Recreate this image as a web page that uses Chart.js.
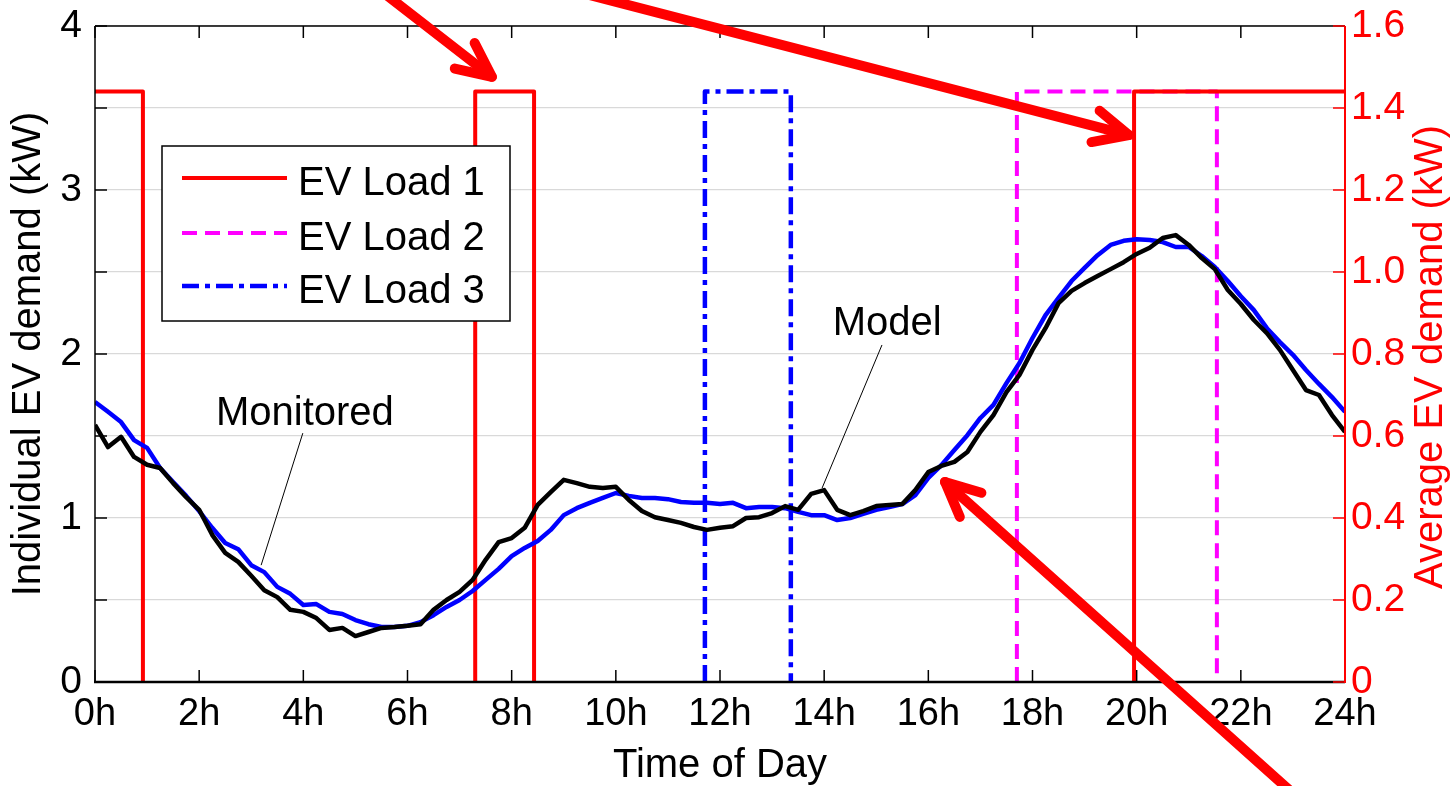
<!DOCTYPE html>
<html>
<head>
<meta charset="utf-8">
<title>EV demand over the day</title>
<script src="https://cdn.jsdelivr.net/npm/chart.js@4.4.1/dist/chart.umd.min.js"></script>
<style>
  html, body { margin: 0; padding: 0; background: #fff; }
  #wrap { width: 1455px; height: 786px; position: relative; }
</style>
</head>
<body>
<div id="wrap"><canvas id="demandChart"></canvas></div>
<script>
"use strict";

// time of day, hours (15 min steps)
const hours = [
  0, 0.25, 0.5, 0.75, 1, 1.25, 1.5, 1.75, 2, 2.25, 2.5, 2.75,
  3, 3.25, 3.5, 3.75, 4, 4.25, 4.5, 4.75, 5, 5.25, 5.5, 5.75,
  6, 6.25, 6.5, 6.75, 7, 7.25, 7.5, 7.75, 8, 8.25, 8.5, 8.75,
  9, 9.25, 9.5, 9.75, 10, 10.25, 10.5, 10.75, 11, 11.25, 11.5, 11.75,
  12, 12.25, 12.5, 12.75, 13, 13.25, 13.5, 13.75, 14, 14.25, 14.5, 14.75,
  15, 15.25, 15.5, 15.75, 16, 16.25, 16.5, 16.75, 17, 17.25, 17.5, 17.75,
  18, 18.25, 18.5, 18.75, 19, 19.25, 19.5, 19.75, 20, 20.25, 20.5, 20.75,
  21, 21.25, 21.5, 21.75, 22, 22.25, 22.5, 22.75, 23, 23.25, 23.5, 23.75, 24
];

// average demand per EV, kW (right axis)
const model = [
  0.627, 0.573, 0.598, 0.549, 0.530, 0.522, 0.485, 0.451, 0.420, 0.359, 0.315, 0.293,
  0.259, 0.224, 0.207, 0.176, 0.171, 0.156, 0.127, 0.132, 0.112, 0.122, 0.132, 0.134,
  0.137, 0.141, 0.176, 0.200, 0.220, 0.249, 0.298, 0.341, 0.351, 0.376, 0.432, 0.463,
  0.493, 0.485, 0.476, 0.473, 0.476, 0.444, 0.417, 0.402, 0.395, 0.388, 0.378, 0.371,
  0.376, 0.380, 0.400, 0.402, 0.412, 0.429, 0.420, 0.459, 0.468, 0.420, 0.407, 0.417,
  0.429, 0.432, 0.434, 0.468, 0.512, 0.527, 0.537, 0.561, 0.610, 0.651, 0.707, 0.749,
  0.810, 0.863, 0.924, 0.954, 0.973, 0.990, 1.007, 1.024, 1.044, 1.059, 1.083, 1.090,
  1.066, 1.034, 1.007, 0.956, 0.922, 0.883, 0.851, 0.810, 0.761, 0.712, 0.700, 0.651, 0.610
];
const monitored = [
  0.683, 0.659, 0.634, 0.590, 0.571, 0.522, 0.488, 0.454, 0.417, 0.376, 0.339, 0.324,
  0.285, 0.268, 0.232, 0.215, 0.188, 0.190, 0.171, 0.166, 0.151, 0.141, 0.134, 0.134,
  0.137, 0.146, 0.163, 0.183, 0.200, 0.222, 0.249, 0.276, 0.307, 0.327, 0.344, 0.371,
  0.407, 0.424, 0.437, 0.449, 0.461, 0.454, 0.449, 0.449, 0.446, 0.439, 0.437, 0.437,
  0.434, 0.437, 0.424, 0.427, 0.427, 0.424, 0.415, 0.407, 0.407, 0.395, 0.400, 0.410,
  0.420, 0.427, 0.434, 0.456, 0.498, 0.529, 0.566, 0.602, 0.644, 0.676, 0.729, 0.778,
  0.839, 0.895, 0.937, 0.978, 1.010, 1.041, 1.066, 1.076, 1.080, 1.078, 1.073, 1.061,
  1.061, 1.039, 1.012, 0.978, 0.941, 0.907, 0.863, 0.829, 0.798, 0.761, 0.727, 0.695, 0.659
];

// individual EVs: charger rating (kW) and charging windows [start h, end h]
const evRating = 3.6;
const load1Windows = [[0, 0.92], [7.3, 8.43], [19.95, 24]];
const load2Windows = [[17.7, 21.54]];
const load3Windows = [[11.71, 13.36]];
const loadNames = ["EV Load 1", "EV Load 2", "EV Load 3"];

// annotation text anchors [h, kW right axis] and arrow ends [h, kW left axis]
const monitoredLabel = { text: "Monitored", at: [4.03, 0.627], from: [3.99, 0.607], to: [3.19, 0.285] };
const modelLabel = { text: "Model", at: [15.21, 0.846], from: [15.11, 0.822], to: [13.96, 0.473] };
const arrows = [
  { tail: [5.47, 4.22], tip: [7.62, 3.69] },
  { tail: [9.12, 4.22], tip: [19.85, 3.335] },
  { tail: [23.04, -0.69], tip: [16.32, 1.22] }
];

const FONT = "'Liberation Sans', Arial, Helvetica, sans-serif";
Chart.defaults.font.family = FONT;
Chart.defaults.color = "#000";

function stepPoints(windows) {
  const pts = [];
  if (windows[0][0] > 0) pts.push({ x: 0, y: 0 });
  windows.forEach(([a, b]) => {
    if (a > 0) pts.push({ x: a, y: 0 });
    pts.push({ x: a, y: evRating });
    pts.push({ x: b, y: evRating });
    if (b < 24) pts.push({ x: b, y: 0 });
  });
  if (windows[windows.length - 1][1] < 24) pts.push({ x: 24, y: 0 });
  return pts;
}

// the zero level sits on the axis and shows only as a faint trace
function faintAtZero(color) {
  return {
    borderColor: (c) => (c.p0.parsed.y === 0 && c.p1.parsed.y === 0 ? color : undefined),
    borderWidth: (c) => (c.p0.parsed.y === 0 && c.p1.parsed.y === 0 ? 2 : undefined)
  };
}

const series = (values) => hours.map((h, i) => ({ x: h, y: values[i] }));

// fixed axis sizes so the plot box lands where it should
function fixSize(prop, size) {
  return (s) => {
    s[prop] = size;
    s.paddingTop = 0; s.paddingBottom = 0; s.paddingLeft = 0; s.paddingRight = 0;
  };
}

const overlay = {
  id: "overlay",
  afterDraw(chart) {
    const { ctx, chartArea: area } = chart;
    const xs = chart.scales.x, yl = chart.scales.y, yr = chart.scales.y1;
    const line = (x1, y1, x2, y2) => {
      ctx.beginPath(); ctx.moveTo(x1, y1); ctx.lineTo(x2, y2); ctx.stroke();
    };
    ctx.save();

    // axes box and inward ticks
    ctx.lineCap = "butt";
    ctx.strokeStyle = "#000";
    ctx.lineWidth = 1.5;
    xs.ticks.forEach((t) => {
      const px = xs.getPixelForValue(t.value);
      line(px, area.bottom, px, area.bottom - 12);
      line(px, area.top, px, area.top + 12);
    });
    yr.ticks.forEach((t) => {
      const py = yr.getPixelForValue(t.value);
      line(area.left, py, area.left + 12, py);
    });
    line(area.left, area.top, area.right, area.top);
    line(area.left, area.top, area.left, area.bottom);
    ctx.lineWidth = 2.5;
    line(area.left - 1, area.bottom, area.right, area.bottom);
    ctx.strokeStyle = "#ff0000";
    ctx.lineWidth = 1.5;
    yr.ticks.forEach((t) => {
      const py = yr.getPixelForValue(t.value);
      line(area.right, py, area.right - 12, py);
    });
    ctx.lineWidth = 2;
    line(area.right, area.top, area.right, area.bottom + 1);

    // right axis title, read bottom to top
    ctx.fillStyle = "#ff0000";
    ctx.font = "40px " + FONT;
    ctx.textAlign = "center";
    ctx.textBaseline = "middle";
    ctx.translate(1431, (area.top + area.bottom) / 2 + 3);
    ctx.rotate(-Math.PI / 2);
    ctx.fillText("Average EV demand (kW)", 0, 0);
    ctx.setTransform(1, 0, 0, 1, 0, 0);

    // legend for the three EV loads
    const bx = area.left + 67, by = area.top + 120, bw = 348, bh = 175;
    ctx.fillStyle = "#fff";
    ctx.fillRect(bx, by, bw, bh);
    ctx.strokeStyle = "#000";
    ctx.lineWidth = 1.5;
    ctx.strokeRect(bx, by, bw, bh);
    const rows = [32, 87, 140];
    chart.data.datasets.slice(2).forEach((ds, i) => {
      const ry = by + rows[i];
      ctx.strokeStyle = ds.borderColor;
      ctx.lineWidth = ds.borderWidth;
      ctx.setLineDash(ds.borderDash || []);
      line(bx + 20, ry, bx + 125, ry);
      ctx.setLineDash([]);
      ctx.fillStyle = "#000";
      ctx.textAlign = "left";
      ctx.textBaseline = "alphabetic";
      ctx.fillText(ds.label, bx + 136, ry + 17);
    });

    // curve labels with leader lines
    ctx.strokeStyle = "#000";
    ctx.lineWidth = 1;
    ctx.textAlign = "center";
    [monitoredLabel, modelLabel].forEach((lab) => {
      ctx.fillText(lab.text, xs.getPixelForValue(lab.at[0]), yr.getPixelForValue(lab.at[1]));
      line(xs.getPixelForValue(lab.from[0]), yr.getPixelForValue(lab.from[1]),
           xs.getPixelForValue(lab.to[0]), yr.getPixelForValue(lab.to[1]));
    });

    // red pointer arrows
    ctx.strokeStyle = "#ff0000";
    ctx.lineWidth = 10;
    ctx.lineCap = "round";
    ctx.lineJoin = "round";
    arrows.forEach((a) => {
      const x1 = xs.getPixelForValue(a.tail[0]), y1 = yl.getPixelForValue(a.tail[1]);
      const x2 = xs.getPixelForValue(a.tip[0]), y2 = yl.getPixelForValue(a.tip[1]);
      const ang = Math.atan2(y2 - y1, x2 - x1);
      const head = 38, spread = 0.44;
      line(x1, y1, x2, y2);
      ctx.beginPath();
      ctx.moveTo(x2 - head * Math.cos(ang - spread), y2 - head * Math.sin(ang - spread));
      ctx.lineTo(x2, y2);
      ctx.lineTo(x2 - head * Math.cos(ang + spread), y2 - head * Math.sin(ang + spread));
      ctx.stroke();
    });
    ctx.restore();
  }
};

new Chart(document.getElementById("demandChart"), {
  type: "line",
  data: {
    datasets: [
      {
        label: "Model",
        data: series(model),
        yAxisID: "y1",
        borderColor: "#000000",
        borderWidth: 4.5,
        borderJoinStyle: "round"
      },
      {
        label: "Monitored",
        data: series(monitored),
        yAxisID: "y1",
        borderColor: "#0000ff",
        borderWidth: 4.5,
        borderJoinStyle: "round"
      },
      {
        label: loadNames[0],
        data: stepPoints(load1Windows),
        yAxisID: "y",
        borderColor: "#ff0000",
        borderWidth: 4,
        borderJoinStyle: "round",
        segment: faintAtZero("rgba(255,0,0,0.25)")
      },
      {
        label: loadNames[1],
        data: stepPoints(load2Windows),
        yAxisID: "y",
        borderColor: "#ff00ff",
        borderWidth: 4,
        borderDash: [15, 8],
        borderJoinStyle: "round",
        segment: faintAtZero("rgba(255,0,255,0.25)")
      },
      {
        label: loadNames[2],
        data: stepPoints(load3Windows),
        yAxisID: "y",
        borderColor: "#0000ff",
        borderWidth: 4.5,
        borderDash: [17, 6, 5, 6],
        borderJoinStyle: "round",
        segment: faintAtZero("rgba(0,0,255,0.25)")
      }
    ]
  },
  options: {
    responsive: true,
    maintainAspectRatio: false,
    animation: false,
    elements: { point: { radius: 0 }, line: { tension: 0 } },
    layout: { padding: { top: 26, left: 0, right: 0, bottom: 0 } },
    plugins: { legend: { display: false }, tooltip: { enabled: false } },
    scales: {
      x: {
        type: "linear",
        min: 0,
        max: 24,
        grid: { display: false, drawTicks: false },
        border: { display: false },
        ticks: {
          stepSize: 2,
          padding: 10,
          maxRotation: 0,
          font: { size: 38 },
          callback: (v) => v + "h"
        },
        title: { display: true, text: "Time of Day", font: { size: 40, lineHeight: 1 }, padding: { top: 0, bottom: 0 } },
        afterFit: fixSize("height", 104)
      },
      y: {
        position: "left",
        min: 0,
        max: 4,
        grid: { display: false, drawTicks: false },
        border: { display: false },
        ticks: { stepSize: 1, padding: 13, font: { size: 39 } },
        title: { display: true, text: "Individual EV demand (kW)", font: { size: 40 }, padding: { top: 5, bottom: 0 } },
        afterFit: fixSize("width", 95)
      },
      y1: {
        position: "right",
        min: 0,
        max: 1.6,
        grid: { drawOnChartArea: true, drawTicks: false, color: "#d9d9d9", lineWidth: 1.2 },
        border: { display: false },
        ticks: {
          stepSize: 0.2,
          padding: 6,
          color: "#ff0000",
          font: { size: 39 },
          callback: (v) => (v === 0 ? "0" : v.toFixed(1))
        },
        afterFit: fixSize("width", 110)
      }
    }
  },
  plugins: [overlay]
});
</script>
</body>
</html>
